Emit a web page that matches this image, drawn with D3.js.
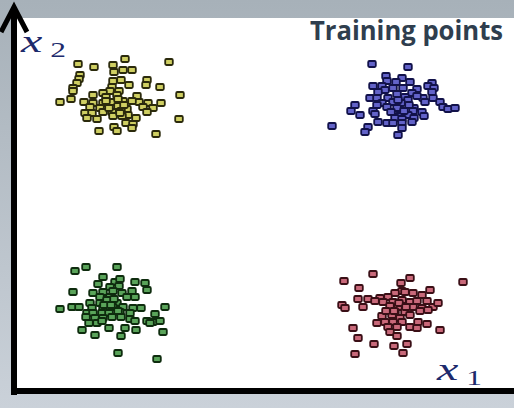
<!DOCTYPE html>
<html>
<head>
<meta charset="utf-8">
<script src="https://cdn.jsdelivr.net/npm/d3@7"></script>
<style>
  html, body { margin: 0; padding: 0; background: #ffffff; }
  svg { display: block; }
</style>
</head>
<body>
<svg id="chart" width="514" height="408"></svg>
<script>
// Training points, one list per class (x1, x2 in plot units)
var yellowPoints = [
  [64,327],[80,324],[99,326],[111,332],[155,329],[100,319],[109,321],[118,321],
  [66,316],[65,312],[63,308],[59,303],[59,300],[99,310],[107,311],[115,306],
  [133,311],[132,306],[146,304],[98,304],[96,300],[105,300],[166,296],[46,289],
  [57,292],[79,296],[89,298],[92,294],[103,296],[123,295],[70,289],[79,288],
  [89,288],[98,289],[109,290],[125,289],[134,288],[147,288],[76,284],[86,283],
  [104,285],[113,282],[129,284],[139,283],[133,279],[71,278],[78,278],[89,279],
  [98,279],[107,280],[114,276],[73,273],[83,272],[99,275],[108,275],[122,273],
  [165,272],[112,268],[119,267],[100,264],[85,260],[103,260],[118,263],[142,257],
  [104,292],[110,286],[95,283],[118,290],[106,278],[92,290]
];
var bluePoints = [
  [358,327],[394,324],[372,315],[388,313],[373,310],[382,309],[396,309],[359,305],
  [368,305],[418,308],[414,305],[371,301],[379,303],[389,303],[403,302],[420,303],
  [364,299],[383,297],[398,298],[418,299],[356,293],[363,293],[374,293],[391,294],
  [394,291],[409,293],[419,293],[368,288],[379,289],[387,288],[411,289],[426,289],
  [341,286],[363,286],[373,284],[383,283],[400,283],[429,284],[434,282],[441,283],
  [337,280],[359,280],[399,280],[408,279],[346,276],[361,277],[385,275],[394,276],
  [410,275],[381,273],[388,272],[400,273],[364,269],[373,268],[379,268],[388,268],
  [398,269],[318,265],[354,264],[388,263],[351,259],[384,256],
  [384,291],[395,286],[377,279],[403,295],[390,280]
];
var greenPoints = [
  [61,120],[72,124],[103,124],[89,114],[84,107],[101,109],[106,112],[121,109],
  [131,108],[96,104],[105,105],[59,99],[79,98],[89,99],[99,100],[108,98],
  [118,100],[133,101],[86,94],[96,94],[113,94],[121,94],[76,88],[86,88],
  [94,89],[103,88],[46,82],[58,84],[65,84],[78,83],[89,83],[99,84],
  [109,84],[119,83],[127,83],[151,84],[73,78],[79,78],[88,78],[95,78],
  [106,79],[116,78],[141,77],[72,74],[81,73],[89,73],[98,74],[107,74],
  [116,72],[121,70],[133,70],[139,69],[146,70],[75,68],[83,68],[88,70],
  [136,68],[68,61],[95,63],[111,63],[122,61],[149,59],[81,56],[107,55],
  [104,38],[143,32],
  [93,91],[100,92],[90,86],[104,80],[97,86]
];
var redPoints = [
  [359,117],[330,110],[387,108],[396,113],[449,109],[345,103],[388,100],[416,101],
  [381,98],[391,99],[399,98],[408,96],[344,92],[354,92],[366,93],[374,94],
  [361,90],[369,89],[379,89],[388,91],[396,89],[403,90],[413,90],[328,86],
  [331,83],[349,84],[376,85],[384,84],[399,84],[408,83],[419,84],[424,88],
  [381,79],[391,79],[406,80],[414,81],[368,75],[378,76],[386,73],[363,68],
  [371,69],[379,69],[388,69],[404,69],[413,67],[339,63],[374,64],[383,64],
  [396,64],[403,63],[426,61],[376,59],[383,55],[344,53],[360,47],[380,45],
  [393,47],[389,38],[341,37],
  [385,88],[392,84],[380,80],[396,76],[372,80]
];

var classes = [
  { name: "yellow", points: yellowPoints, fill: "#cfcf62", stroke: "#2b2a0c" },
  { name: "blue",   points: bluePoints,   fill: "#6363c9", stroke: "#12124a" },
  { name: "green",  points: greenPoints,  fill: "#5aa45a", stroke: "#0e2c0e" },
  { name: "red",    points: redPoints,    fill: "#c9697a", stroke: "#3a0f16" }
];

var width = 514, height = 408;
var svg = d3.select("#chart");

// Background: grey slide frame with a white plotting panel
var defs = svg.append("defs");
var grad = defs.append("linearGradient")
    .attr("id", "bg")
    .attr("x1", 0).attr("y1", 0).attr("x2", 0).attr("y2", 1);
grad.append("stop").attr("offset", "0%").attr("stop-color", "#a7b1b9");
grad.append("stop").attr("offset", "100%").attr("stop-color", "#cad1d9");

svg.append("rect")
    .attr("width", width).attr("height", height)
    .attr("fill", "url(#bg)");

// Scales (origin sits on the axis corner)
var x = d3.scaleLinear().domain([0, 500]).range([14, 514]);
var y = d3.scaleLinear().domain([0, 373]).range([391, 18]);

svg.append("rect")
    .attr("x", x(0) + 3)
    .attr("y", y(373))
    .attr("width", x(500) - x(0) - 3)
    .attr("height", y(0) - y(373) - 3)
    .attr("fill", "#ffffff");

// Points
classes.forEach(function (c) {
    svg.append("g")
        .attr("class", "series " + c.name)
        .selectAll("rect")
        .data(c.points)
        .enter()
        .append("rect")
            .attr("x", function (d) { return x(d[0]) - 3.8; })
            .attr("y", function (d) { return y(d[1]) - 3; })
            .attr("width", 7.6)
            .attr("height", 6)
            .attr("rx", 1.2)
            .attr("fill", c.fill)
            .attr("stroke", c.stroke)
            .attr("stroke-width", 1.8);
});

// Axes as thick arrows
svg.append("line")
    .attr("x1", x(0)).attr("y1", y(0) + 4)
    .attr("x2", x(0)).attr("y2", 8)
    .attr("stroke", "#000").attr("stroke-width", 6);
svg.append("line")
    .attr("x1", x(0) - 3).attr("y1", y(0))
    .attr("x2", x(500)).attr("y2", y(0))
    .attr("stroke", "#000").attr("stroke-width", 6);
svg.append("path")
    .attr("d", "M" + (x(0) - 13) + ",32 L" + x(0) + ",7 L" + (x(0) + 13) + ",32")
    .attr("fill", "none")
    .attr("stroke", "#000")
    .attr("stroke-width", 5);

// Axis labels: the slide image is stretched sideways, so the math is too
var mathColor = "#1d2a6c";
function mathLabel(px, py, sub) {
    var g = svg.append("g")
        .attr("transform", "translate(" + px + "," + py + ") scale(1.5,1)")
        .attr("fill", mathColor)
        .style("font-family", "'Liberation Serif', 'DejaVu Serif', serif");
    g.append("text")
        .attr("x", 0).attr("y", 0)
        .attr("font-style", "italic")
        .attr("font-size", 32)
        .text("x");
    g.append("text")
        .attr("x", 19.5).attr("y", 5)
        .attr("font-size", 21)
        .text(sub);
}
mathLabel(21, 52, "2");
mathLabel(437, 380, "1");

// Title
svg.append("text")
    .attr("x", 310).attr("y", 40)
    .attr("textLength", 193)
    .attr("lengthAdjust", "spacingAndGlyphs")
    .attr("fill", "#2f3e4e")
    .style("font-family", "'Open Sans', sans-serif")
    .style("font-weight", "bold")
    .style("font-size", "26px")
    .text("Training points");
</script>
</body>
</html>
